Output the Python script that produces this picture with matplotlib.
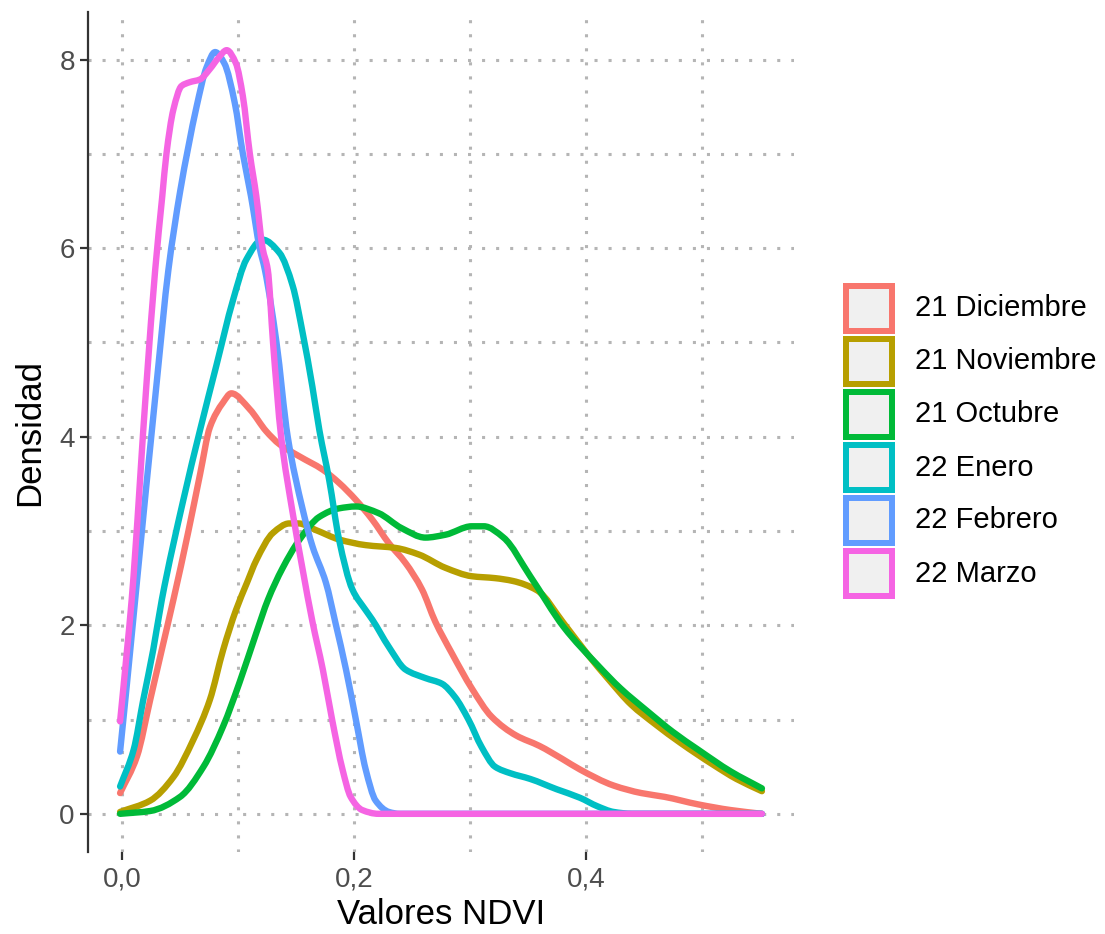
import matplotlib
matplotlib.use("Agg")
import matplotlib.pyplot as plt
from matplotlib.patches import Rectangle, PathPatch
from matplotlib.path import Path
from matplotlib.ticker import MultipleLocator

# ---------------- data ----------------
series_names = ["21 Diciembre", "21 Noviembre", "21 Octubre",
                "22 Enero", "22 Febrero", "22 Marzo"]
series_colors = ["#F8766D", "#B79F00", "#00BA38", "#00BFC4", "#619CFF", "#F564E3"]

dic_x = [-0.002, 0.0126, 0.024, 0.034, 0.044, 0.057, 0.067, 0.0755, 0.0867, 0.094,
         0.110, 0.124, 0.1356, 0.153, 0.173, 0.187, 0.2015, 0.2157, 0.230, 0.2444,
         0.2586, 0.270, 0.2845, 0.3016, 0.3187, 0.340, 0.360, 0.380, 0.395, 0.424,
         0.448, 0.468, 0.497, 0.525, 0.552]
dic_y = [0.22, 0.61, 1.21, 1.74, 2.27, 3.00, 3.60, 4.10, 4.36, 4.46,
         4.29, 4.06, 3.92, 3.79, 3.65, 3.51, 3.33, 3.12, 2.87, 2.66,
         2.38, 2.04, 1.70, 1.33, 1.03, 0.83, 0.72, 0.58, 0.47, 0.30,
         0.22, 0.18, 0.10, 0.04, 0.0]

nov_x = [-0.002, 0.024, 0.044, 0.061, 0.0755, 0.087, 0.098, 0.1075, 0.1156, 0.130,
         0.144, 0.152, 0.167, 0.187, 0.210, 0.236, 0.256, 0.2787, 0.3016, 0.3216,
         0.337, 0.358, 0.381, 0.401, 0.420, 0.439, 0.460, 0.482, 0.510, 0.530, 0.552]
nov_y = [0.02, 0.14, 0.39, 0.78, 1.21, 1.74, 2.16, 2.45, 2.69, 2.98,
         3.08, 3.08, 3.01, 2.91, 2.85, 2.82, 2.75, 2.61, 2.52, 2.50,
         2.47, 2.37, 2.02, 1.70, 1.42, 1.16, 0.95, 0.75, 0.52, 0.37, 0.24]

oct_x = [-0.002, 0.024, 0.0498, 0.070, 0.087, 0.101, 0.1156, 0.1256, 0.138, 0.153,
         0.170, 0.187, 0.2015, 0.221, 0.241, 0.2615, 0.2787, 0.3016, 0.312, 0.329,
         0.352, 0.381, 0.410, 0.430, 0.453, 0.475, 0.497, 0.525, 0.552]
oct_y = [0.0, 0.03, 0.18, 0.50, 0.93, 1.39, 1.92, 2.27, 2.60, 2.91,
         3.15, 3.24, 3.26, 3.19, 3.03, 2.93, 2.96, 3.05, 3.05, 2.93,
         2.52, 1.98, 1.58, 1.33, 1.09, 0.87, 0.68, 0.45, 0.27]

ene_x = [-0.002, 0.0097, 0.018, 0.0266, 0.034, 0.0526, 0.067, 0.081, 0.0955, 0.107,
         0.121, 0.1356, 0.147, 0.1556, 0.164, 0.170, 0.1785, 0.187, 0.1985, 0.210,
         0.2157, 0.230, 0.2444, 0.2615, 0.2758, 0.287, 0.2987, 0.310, 0.3216, 0.335,
         0.352, 0.375, 0.395, 0.410, 0.424, 0.440, 0.552]
ene_y = [0.29, 0.68, 1.21, 1.74, 2.27, 3.33, 4.07, 4.75, 5.45, 5.88,
         6.09, 5.95, 5.60, 5.10, 4.53, 4.07, 3.54, 2.91, 2.38, 2.16,
         2.06, 1.77, 1.53, 1.44, 1.38, 1.24, 1.00, 0.71, 0.50, 0.43,
         0.37, 0.26, 0.17, 0.08, 0.02, 0.0, 0.0]

feb_x = [-0.002, 0.004, 0.011, 0.0298, 0.0397, 0.0498, 0.057, 0.064, 0.0727, 0.080,
         0.088, 0.097, 0.104, 0.111, 0.1185, 0.123, 0.133, 0.1427, 0.1556, 0.164,
         0.1757, 0.184, 0.193, 0.2015, 0.210, 0.2186, 0.230, 0.239, 0.552]
feb_y = [0.66, 1.39, 2.27, 4.60, 5.77, 6.60, 7.08, 7.50, 7.92, 8.08,
         7.96, 7.54, 7.00, 6.55, 6.00, 5.77, 5.00, 4.00, 3.23, 2.84,
         2.45, 2.02, 1.53, 1.00, 0.47, 0.14, 0.02, 0.0, 0.0]

mar_x = [-0.002, 0.004, 0.008, 0.021, 0.0283, 0.0344, 0.038, 0.044, 0.051, 0.058,
         0.067, 0.0755, 0.083, 0.090, 0.098, 0.104, 0.110, 0.1156, 0.121, 0.1255,
         0.130, 0.137, 0.147, 0.1556, 0.164, 0.173, 0.181, 0.190, 0.197, 0.207,
         0.221, 0.552]
mar_y = [0.98, 1.74, 2.27, 4.60, 5.77, 6.55, 7.00, 7.47, 7.72, 7.76,
         7.79, 7.90, 8.02, 8.10, 7.96, 7.61, 7.00, 6.55, 6.00, 5.77,
         5.00, 4.00, 3.19, 2.59, 2.04, 1.53, 1.00, 0.47, 0.18, 0.04,
         0.0, 0.0]

series_x = [dic_x, nov_x, oct_x, ene_x, feb_x, mar_x]
series_y = [dic_y, nov_y, oct_y, ene_y, feb_y, mar_y]

x_ticks = [0.0, 0.2, 0.4]
x_tick_labels = ["0,0", "0,2", "0,4"]
y_ticks = [0, 2, 4, 6, 8]
y_tick_labels = ["0", "2", "4", "6", "8"]
x_label = "Valores NDVI"
y_label = "Densidad"


def smooth_path(xs, ys):
    """Monotone cubic (Bezier) path through the read points."""
    n = len(xs)
    d = [(ys[i + 1] - ys[i]) / (xs[i + 1] - xs[i]) for i in range(n - 1)]
    m = [0.0] * n
    m[0], m[-1] = d[0], d[-1]
    for i in range(1, n - 1):
        if d[i - 1] * d[i] <= 0:
            m[i] = 0.0
        else:
            w1 = 2 * (xs[i + 1] - xs[i]) + (xs[i] - xs[i - 1])
            w2 = (xs[i + 1] - xs[i]) + 2 * (xs[i] - xs[i - 1])
            m[i] = (w1 + w2) / (w1 / d[i - 1] + w2 / d[i])
    verts = [(xs[0], ys[0])]
    codes = [Path.MOVETO]
    for i in range(n - 1):
        h = xs[i + 1] - xs[i]
        verts += [(xs[i] + h / 3, ys[i] + m[i] * h / 3),
                  (xs[i + 1] - h / 3, ys[i + 1] - m[i + 1] * h / 3),
                  (xs[i + 1], ys[i + 1])]
        codes += [Path.CURVE4] * 3
    return Path(verts, codes)


# ---------------- figure ----------------
plt.rcParams['font.family'] = ['Liberation Sans', 'DejaVu Sans']
W, H = 1105, 934
fig = plt.figure(figsize=(W / 100, H / 100), dpi=100)
fig.patch.set_facecolor("white")
ax = fig.add_axes([88 / W, 82 / H, 706 / W, 840 / H])
ax.set_facecolor("white")

ax.set_xlim(-0.0297, 0.5797)
ax.set_ylim(-0.405, 8.505)

ax.xaxis.set_minor_locator(MultipleLocator(0.1))
ax.yaxis.set_minor_locator(MultipleLocator(1))
ax.set_xticks(x_ticks)
ax.set_xticklabels(x_tick_labels)
ax.set_yticks(y_ticks)
ax.set_yticklabels(y_tick_labels)

grid_kw = dict(color="#B5B5B5", linewidth=2.2, linestyle=(0, (1, 3.6)))
ax.grid(True, which="major", **grid_kw)
ax.grid(True, which="minor", **grid_kw)
ax.set_axisbelow(True)

for side in ["top", "right", "bottom"]:
    ax.spines[side].set_visible(False)
ax.spines["left"].set_color("#333333")
ax.spines["left"].set_linewidth(1.6)

ax.tick_params(axis="both", which="major", direction="out", length=5.5, width=1.6,
               color="#333333", labelcolor="#4D4D4D", labelsize=20)
ax.tick_params(axis="both", which="minor", length=0)
ax.tick_params(axis="x", pad=5)
ax.tick_params(axis="y", pad=4)

for xs, ys, c in zip(series_x, series_y, series_colors):
    patch = PathPatch(smooth_path(xs, ys), facecolor="none", edgecolor=c,
                      linewidth=4.6, capstyle="round", joinstyle="round", zorder=3)
    ax.add_patch(patch)

ax.set_xlabel(x_label, fontsize=25, color="black")
ax.set_ylabel(y_label, fontsize=25, color="black")
ax.xaxis.set_label_coords(0.5, (852 - 915) / 840)
ax.xaxis.label.set_va("center")
ax.yaxis.set_label_coords((30 - 88) / 706, 0.5)
ax.yaxis.label.set_va("center")

# ---------------- legend ----------------
key_left, key_top, key_w, key_h, pitch = 843, 283, 52, 51, 53
border_px = 6
for i, (name, c) in enumerate(zip(series_names, series_colors)):
    top = key_top + i * pitch
    inset = border_px / 2
    x0 = (key_left + inset) / W
    y0 = 1 - (top + key_h - inset) / H
    rect = Rectangle((x0, y0), (key_w - border_px) / W, (key_h - border_px) / H,
                     transform=fig.transFigure, facecolor="#F0F0F0",
                     edgecolor=c, linewidth=border_px * 0.72)
    fig.add_artist(rect)
    fig.text(915 / W, 1 - (top + key_h / 2) / H, name, fontsize=21,
             color="black", va="center", ha="left")

fig.savefig("out.png", dpi=100)
